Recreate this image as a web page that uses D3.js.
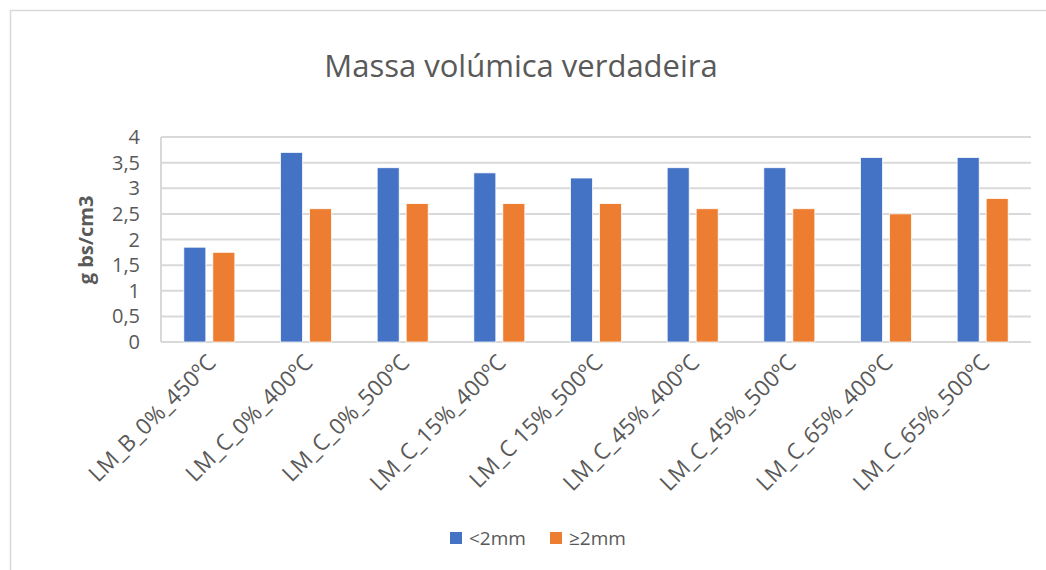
<!DOCTYPE html>
<html>
<head>
<meta charset="utf-8">
<script src="https://cdn.jsdelivr.net/npm/d3@7"></script>
<style>
  body { margin: 0; background: #fff; }
  text { font-family: "Open Sans", sans-serif; fill: #595959; }
</style>
</head>
<body>
<script>
const categories = [
  "LM_B_0%_450ºC", "LM_C_0%_400ºC", "LM_C_0%_500ºC", "LM_C_15%_400ºC",
  "LM_C 15%_500ºC", "LM_C_45%_400ºC", "LM_C_45%_500ºC", "LM_C_65%_400ºC", "LM_C_65%_500ºC"
]
const fine = [1.85, 3.7, 3.4, 3.3, 3.2, 3.4, 3.4, 3.6, 3.6]
const coarse = [1.75, 2.6, 2.7, 2.7, 2.7, 2.6, 2.6, 2.5, 2.8]
const seriesNames = ["<2mm", "≥2mm"]
const colors = ["#4472C4", "#ED7D31"]
const yTicks = [0, 0.5, 1, 1.5, 2, 2.5, 3, 3.5, 4]

const w = 1046
const h = 570
const plot = { left: 161, right: 1031, top: 137, bottom: 342 }

const svg = d3.select("body").append("svg").attr("width", w).attr("height", h)

// chart frame
svg.append("rect")
  .attr("x", 10.5).attr("y", 10.5)
  .attr("width", w + 20).attr("height", h + 20)
  .attr("fill", "none").attr("stroke", "#d9d9d9").attr("stroke-width", 1.5)

svg.append("text")
  .attr("x", 521).attr("y", 77)
  .attr("text-anchor", "middle")
  .attr("font-size", "31px")
  .text("Massa volúmica verdadeira")

const xScale = d3.scaleBand()
  .domain(categories)
  .range([plot.left, plot.right])

const yScale = d3.scaleLinear()
  .domain([0, 4])
  .range([plot.bottom, plot.top])

// gridlines
svg.append("g")
  .selectAll("line")
  .data(yTicks)
  .enter()
  .append("line")
  .attr("x1", plot.left).attr("x2", plot.right)
  .attr("y1", (d) => yScale(d)).attr("y2", (d) => yScale(d))
  .attr("stroke", "#d9d9d9").attr("stroke-width", 2)

svg.append("line")
  .attr("x1", plot.left).attr("x2", plot.left)
  .attr("y1", plot.top).attr("y2", plot.bottom)
  .attr("stroke", "#d9d9d9").attr("stroke-width", 2)

const fmt = (d) => String(d).replace(".", ",")
svg.append("g")
  .selectAll("text")
  .data(yTicks)
  .enter()
  .append("text")
  .attr("x", 140)
  .attr("y", (d) => yScale(d) + 7)
  .attr("text-anchor", "end")
  .attr("font-size", "20px")
  .text(fmt)

svg.append("text")
  .attr("transform", "translate(93," + 240 + ") rotate(-90)")
  .attr("text-anchor", "middle")
  .attr("font-size", "20px")
  .attr("font-weight", "bold")
  .text("g bs/cm3")

// bars
const barW = 22
const gap = 7
const series = [fine, coarse]
series.forEach((vals, s) => {
  svg.append("g")
    .selectAll("rect")
    .data(vals)
    .enter()
    .append("rect")
    .attr("x", (d, i) => xScale(categories[i]) + xScale.bandwidth() / 2 - barW - gap / 2 + s * (barW + gap))
    .attr("y", (d) => yScale(d))
    .attr("width", barW)
    .attr("height", (d) => yScale(0) - yScale(d))
    .attr("fill", colors[s])
    .attr("stroke", "#fff").attr("stroke-width", 0.75)
})

// category labels
svg.append("g")
  .selectAll("text")
  .data(categories)
  .enter()
  .append("text")
  .attr("transform", (d) => "translate(" + (xScale(d) + xScale.bandwidth() / 2 + 8) + ",364) rotate(-45)")
  .attr("text-anchor", "end")
  .attr("font-size", "22.5px")
  .text((d) => d)

// legend
const legend = svg.append("g")
seriesNames.forEach((name, i) => {
  const lx = 450 + i * 100
  legend.append("rect")
    .attr("x", lx).attr("y", 532)
    .attr("width", 12).attr("height", 12)
    .attr("fill", colors[i])
  legend.append("text")
    .attr("x", lx + 19).attr("y", 545)
    .attr("font-size", "19px")
    .text(name)
})
</script>
</body>
</html>
